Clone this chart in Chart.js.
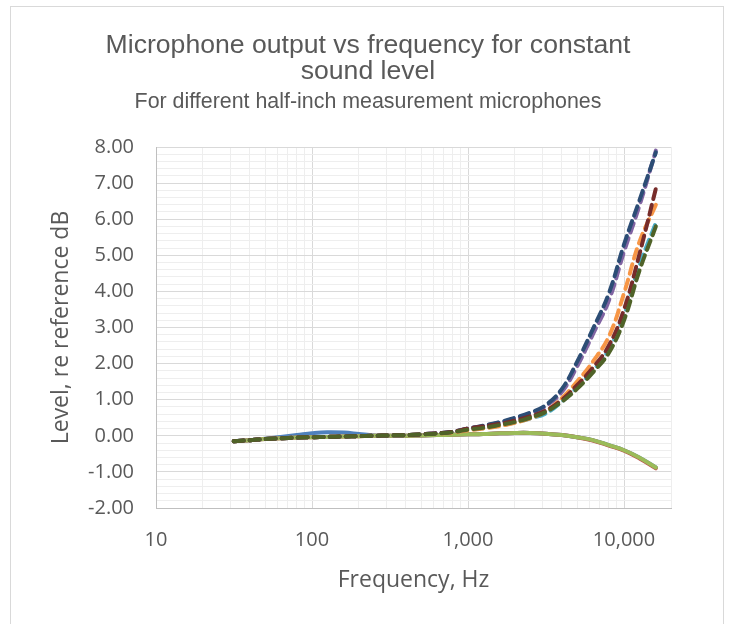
<!DOCTYPE html>
<html>
<head>
<meta charset="utf-8">
<script src="https://cdn.jsdelivr.net/npm/chart.js@4.4.1/dist/chart.umd.min.js"></script>
<style>
  html, body { margin: 0; padding: 0; background: #fff; }
  #wrap { width: 736px; height: 624px; position: relative; }
</style>
</head>
<body>
<div id="wrap"><canvas id="micChart"></canvas></div>
<script>
// Third-octave frequencies, Hz
const freqs = [31.5, 40, 50, 63, 80, 100, 125, 160, 200, 250, 315, 400, 500, 630, 800,
               1000, 1250, 1600, 2000, 2500, 3150, 4000, 5000, 6300, 8000, 10000, 12500, 16000];

// Solid curves (pressure response)
const solidBlue  = [-0.15, -0.12, -0.08, -0.03, 0.02, 0.07, 0.10, 0.09, 0.05, 0.01, 0.00, 0.00, 0.01, 0.02, 0.03,
                    0.04, 0.05, 0.07, 0.08, 0.08, 0.06, 0.02, -0.04, -0.12, -0.26, -0.40, -0.60, -0.88];
const solidRed   = [-0.15, -0.12, -0.09, -0.07, -0.05, -0.04, -0.03, -0.02, -0.01, 0.00, 0.00, 0.00, 0.01, 0.02, 0.03,
                    0.04, 0.05, 0.07, 0.08, 0.08, 0.06, 0.02, -0.04, -0.13, -0.27, -0.41, -0.62, -0.90];
const solidGreen = [-0.15, -0.12, -0.09, -0.07, -0.05, -0.04, -0.03, -0.02, -0.01, 0.00, 0.00, 0.00, 0.01, 0.02, 0.03,
                    0.04, 0.05, 0.07, 0.08, 0.08, 0.06, 0.02, -0.04, -0.12, -0.26, -0.40, -0.60, -0.88];

// Dashed curves (free-field response)
const dashPurple   = [-0.15, -0.12, -0.09, -0.07, -0.05, -0.04, -0.03, -0.02, -0.01, 0.00, 0.01, 0.02, 0.04, 0.07, 0.11,
                      0.20, 0.27, 0.37, 0.48, 0.62, 0.82, 1.22, 1.92, 2.80, 3.75, 5.10, 6.35, 7.90];
const dashAqua     = [-0.15, -0.12, -0.09, -0.07, -0.05, -0.04, -0.03, -0.02, -0.01, 0.00, 0.01, 0.02, 0.04, 0.06, 0.10,
                      0.16, 0.21, 0.28, 0.37, 0.48, 0.62, 0.95, 1.35, 1.80, 2.40, 3.35, 4.70, 5.90];
const dashOrange   = [-0.15, -0.12, -0.09, -0.07, -0.05, -0.04, -0.03, -0.02, -0.01, 0.00, 0.01, 0.02, 0.04, 0.06, 0.09,
                      0.15, 0.20, 0.27, 0.36, 0.48, 0.68, 1.05, 1.50, 2.05, 2.75, 3.95, 5.35, 6.40];
const dashDarkBlue = [-0.15, -0.12, -0.09, -0.07, -0.05, -0.04, -0.03, -0.02, -0.01, 0.00, 0.01, 0.02, 0.04, 0.07, 0.11,
                      0.20, 0.28, 0.38, 0.50, 0.64, 0.85, 1.30, 2.05, 2.95, 3.95, 5.30, 6.50, 7.85];
const dashDarkRed  = [-0.15, -0.12, -0.09, -0.07, -0.05, -0.04, -0.03, -0.02, -0.01, 0.00, 0.01, 0.02, 0.04, 0.07, 0.11,
                      0.20, 0.26, 0.33, 0.42, 0.54, 0.70, 1.00, 1.40, 1.88, 2.50, 3.50, 5.00, 6.85];
const dashDarkGreen= [-0.15, -0.12, -0.09, -0.07, -0.05, -0.04, -0.03, -0.02, -0.01, 0.00, 0.01, 0.02, 0.04, 0.06, 0.10,
                      0.17, 0.22, 0.30, 0.38, 0.50, 0.66, 0.95, 1.30, 1.75, 2.30, 3.20, 4.55, 5.80];

// Axis ticks: minor grid at 1..9 x 10^n, labels at decades
const xTicks = [10, 20, 30, 40, 50, 60, 70, 80, 90,
                100, 200, 300, 400, 500, 600, 700, 800, 900,
                1000, 2000, 3000, 4000, 5000, 6000, 7000, 8000, 9000,
                10000, 20000];
const yMin = -2, yMax = 8;

const toPoints = arr => arr.map((v, i) => ({ x: freqs[i], y: v }));

const series = [
  { data: solidBlue,     color: '#4F81BD', dash: [] },
  { data: solidRed,      color: '#C0504D', dash: [] },
  { data: solidGreen,    color: '#9BBB59', dash: [] },
  { data: dashPurple,    color: '#8064A2', dash: [10, 6] },
  { data: dashAqua,      color: '#4BACC6', dash: [10, 6] },
  { data: dashOrange,    color: '#F79646', dash: [10, 6] },
  { data: dashDarkBlue,  color: '#2C4D75', dash: [10, 6] },
  { data: dashDarkRed,   color: '#772C2A', dash: [10, 6] },
  { data: dashDarkGreen, color: '#4F6228', dash: [10, 6] },
];

const datasets = series.map((s, i) => ({
  data: toPoints(s.data),
  borderColor: s.color,
  borderWidth: 4,
  borderDash: s.dash,
  borderCapStyle: 'round',
  pointRadius: 0,
  tension: 0.4,
  fill: false,
  order: series.length - i, // later series drawn on top, like Excel
}));

// Outer chart frame
const framePlugin = {
  id: 'frame',
  beforeDraw(chart) {
    const ctx = chart.ctx;
    ctx.save();
    ctx.fillStyle = '#fff';
    ctx.fillRect(0, 0, chart.width, chart.height);
    ctx.strokeStyle = '#d9d9d9';
    ctx.lineWidth = 1;
    ctx.strokeRect(10.5, 6.5, 713, 700);
    ctx.restore();
  }
};

const isDecade = v => Math.abs(Math.log10(v) - Math.round(Math.log10(v))) < 1e-9;
const isInt = v => Math.abs(v - Math.round(v)) < 1e-6;

new Chart(document.getElementById('micChart'), {
  type: 'line',
  data: { datasets },
  plugins: [framePlugin],
  options: {
    responsive: true,
    maintainAspectRatio: false,
    animation: false,
    layout: { padding: 0 },
    plugins: {
      legend: { display: false },
      tooltip: { enabled: false },
      title: {
        display: true,
        text: ['Microphone output vs frequency for constant', 'sound level'],
        color: '#595959',
        font: { family: '"Liberation Sans"', size: 26.6, weight: 'normal', lineHeight: '26px' },
        padding: { top: 33, bottom: 7 },
      },
      subtitle: {
        display: true,
        text: 'For different half-inch measurement microphones',
        color: '#595959',
        font: { family: '"Liberation Sans"', size: 21.4, weight: 'normal', lineHeight: '20px' },
        padding: { top: 0, bottom: 35 },
      },
    },
    scales: {
      x: {
        type: 'logarithmic',
        min: 10,
        max: 20000,
        afterBuildTicks: scale => { scale.ticks = xTicks.map(v => ({ value: v })); },
        afterFit: scale => { scale.height = 116; },
        ticks: {
          autoSkip: false,
          maxRotation: 0,
          padding: 20,
          color: '#595959',
          font: { family: '"Open Sans"', size: 20 },
          callback: v => isDecade(v) ? Number(v).toLocaleString('en-US') : '',
        },
        grid: {
          drawTicks: false,
          color: ctx => isDecade(ctx.tick.value) ? '#d9d9d9' : '#eeeeee',
        },
        border: { color: '#bfbfbf' },
        title: {
          display: true,
          text: 'Frequency, Hz',
          color: '#595959',
          font: { family: '"Open Sans"', size: 23 },
          padding: { top: 0, bottom: 30 },
        },
      },
      y: {
        type: 'linear',
        min: yMin,
        max: yMax,
        afterFit: scale => { scale.width = 156; },
        ticks: {
          stepSize: 0.2,
          autoSkip: false,
          padding: 22,
          color: '#595959',
          font: { family: '"Open Sans"', size: 20 },
          callback: v => isInt(v) ? Number(v).toFixed(2) : '',
        },
        grid: {
          drawTicks: false,
          color: ctx => isInt(ctx.tick.value) ? '#d9d9d9' : '#eeeeee',
        },
        border: { color: '#bfbfbf' },
        title: {
          display: true,
          text: 'Level, re reference dB',
          color: '#595959',
          font: { family: '"Open Sans"', size: 23 },
          padding: { top: 48, bottom: 0 },
        },
      },
      // empty right-hand spacer so the plot ends where the reference's does
      spacer: {
        type: 'linear',
        position: 'right',
        display: true,
        afterFit: scale => { scale.width = 65; },
        grid: { display: false, drawTicks: false },
        border: { display: false },
        ticks: { display: false },
      },
    },
  },
});
</script>
</body>
</html>
